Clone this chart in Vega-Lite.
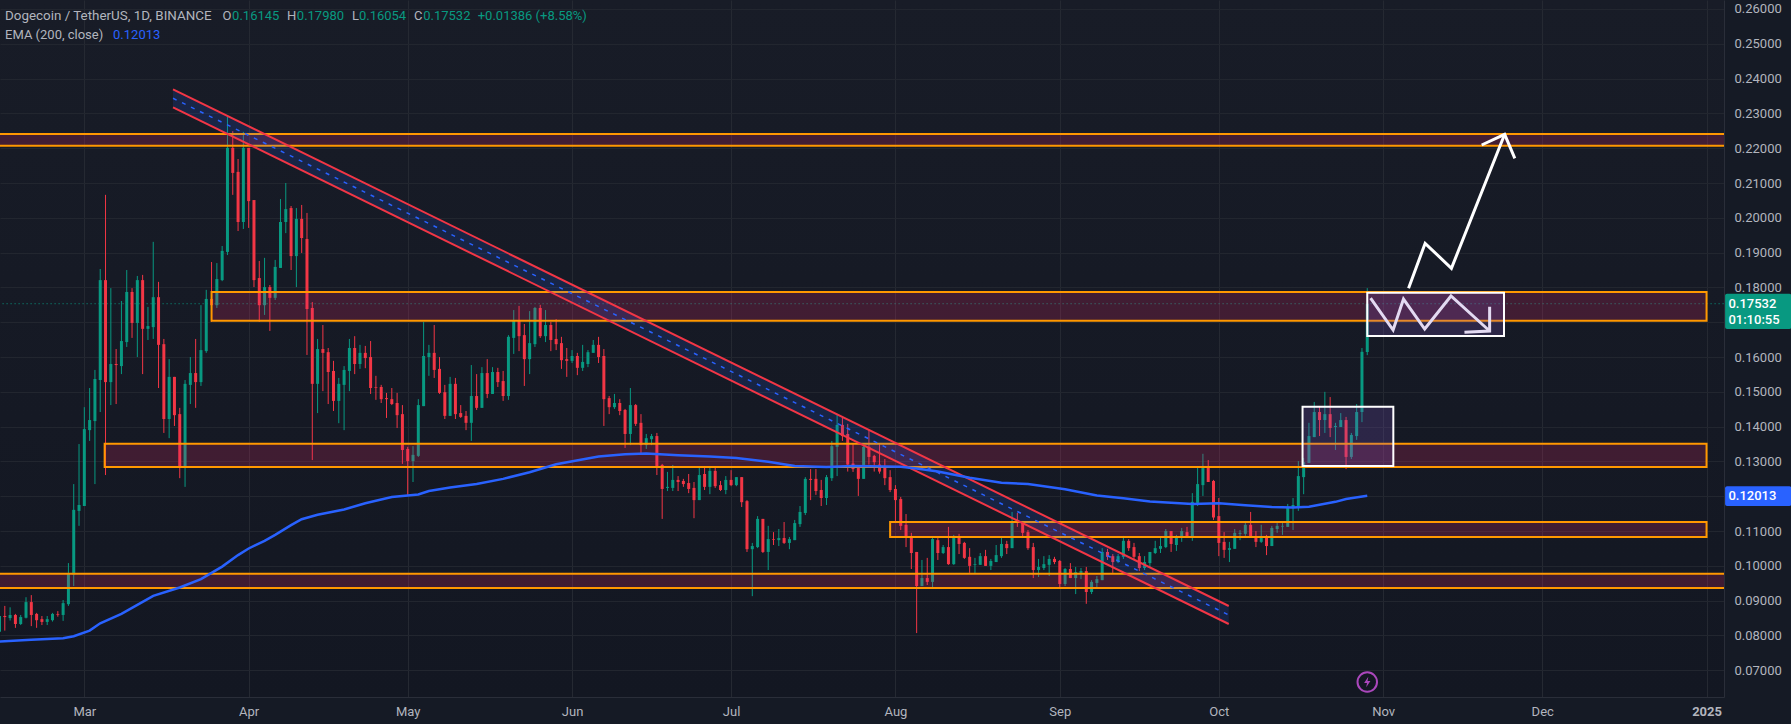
{"$schema":"https://vega.github.io/schema/vega-lite/v6.json","width":1724,"height":697,"autosize":{"type":"none"},"padding":{"left":0,"top":0,"right":67,"bottom":27},"background":"#151a25","view":{"stroke":null,"fill":{"gradient":"linear","x1":0,"y1":0,"x2":0,"y2":1,"stops":[{"offset":0,"color":"#181c27"},{"offset":1,"color":"#131722"}]}},"config":{"font":"Roboto","text":{"font":"Roboto","fontSize":13}},
"datasets":{
"ohlc":[
{"t":"2024-02-14","o":0.0811,"h":0.0856,"l":0.0811,"c":0.0856},{"t":"2024-02-15","o":0.0856,"h":0.0885,"l":0.0814,"c":0.0853},{"t":"2024-02-16","o":0.085,"h":0.0881,"l":0.0843,"c":0.0859},{"t":"2024-02-17","o":0.0859,"h":0.0862,"l":0.0822,"c":0.0833},{"t":"2024-02-18","o":0.0833,"h":0.0859,"l":0.083,"c":0.0853},{"t":"2024-02-19","o":0.0851,"h":0.091,"l":0.0849,"c":0.0896},{"t":"2024-02-20","o":0.0896,"h":0.0916,"l":0.0827,"c":0.0859},{"t":"2024-02-21","o":0.0862,"h":0.0865,"l":0.0822,"c":0.0844},{"t":"2024-02-22","o":0.0847,"h":0.0856,"l":0.083,"c":0.0839},{"t":"2024-02-23","o":0.0839,"h":0.0856,"l":0.083,"c":0.0847},{"t":"2024-02-24","o":0.0844,"h":0.0865,"l":0.084,"c":0.0862},{"t":"2024-02-25","o":0.0861,"h":0.087,"l":0.0854,"c":0.0859},{"t":"2024-02-26","o":0.0859,"h":0.0902,"l":0.0842,"c":0.0893},{"t":"2024-02-27","o":0.089,"h":0.1008,"l":0.0885,"c":0.0978},{"t":"2024-02-28","o":0.0975,"h":0.1235,"l":0.0942,"c":0.1161},{"t":"2024-02-29","o":0.1158,"h":0.135,"l":0.1115,"c":0.1175},
{"t":"2024-03-01","o":0.1172,"h":0.1456,"l":0.1172,"c":0.1393},{"t":"2024-03-02","o":0.139,"h":0.1511,"l":0.1359,"c":0.1419},{"t":"2024-03-03","o":0.1416,"h":0.1563,"l":0.1235,"c":0.1537},{"t":"2024-03-04","o":0.1534,"h":0.1853,"l":0.1442,"c":0.1821},{"t":"2024-03-05","o":0.1821,"h":0.2066,"l":0.1261,"c":0.1528},{"t":"2024-03-06","o":0.1528,"h":0.1798,"l":0.1462,"c":0.158},{"t":"2024-03-07","o":0.158,"h":0.1623,"l":0.1465,"c":0.1577},{"t":"2024-03-08","o":0.1574,"h":0.1761,"l":0.1551,"c":0.1646},{"t":"2024-03-09","o":0.1643,"h":0.185,"l":0.1629,"c":0.1787},{"t":"2024-03-10","o":0.1787,"h":0.1798,"l":0.1655,"c":0.1698},{"t":"2024-03-11","o":0.1698,"h":0.1833,"l":0.16,"c":0.1821},{"t":"2024-03-12","o":0.1821,"h":0.1836,"l":0.1551,"c":0.1681},{"t":"2024-03-13","o":0.1681,"h":0.1744,"l":0.1649,"c":0.1689},{"t":"2024-03-14","o":0.1686,"h":0.1931,"l":0.1652,"c":0.1772},{"t":"2024-03-15","o":0.1772,"h":0.1816,"l":0.1511,"c":0.1635},{"t":"2024-03-16","o":0.1637,"h":0.1652,"l":0.1382,"c":0.1422},{"t":"2024-03-17","o":0.1422,"h":0.1594,"l":0.1367,"c":0.1543},{"t":"2024-03-18","o":0.1543,"h":0.1543,"l":0.1402,"c":0.1433},{"t":"2024-03-19","o":0.1436,"h":0.1454,"l":0.1252,"c":0.1284},{"t":"2024-03-20","o":0.1284,"h":0.1534,"l":0.1227,"c":0.1523},{"t":"2024-03-21","o":0.152,"h":0.16,"l":0.1465,"c":0.1554},{"t":"2024-03-22","o":0.1554,"h":0.1652,"l":0.1454,"c":0.1528},{"t":"2024-03-23","o":0.1528,"h":0.1749,"l":0.1517,"c":0.162},{"t":"2024-03-24","o":0.1617,"h":0.1793,"l":0.1612,"c":0.1767},{"t":"2024-03-25","o":0.1767,"h":0.1873,"l":0.1701,"c":0.1749},{"t":"2024-03-26","o":0.1749,"h":0.187,"l":0.1741,"c":0.1824},{"t":"2024-03-27","o":0.1821,"h":0.1919,"l":0.1818,"c":0.1905},{"t":"2024-03-28","o":0.1902,"h":0.229,"l":0.1893,"c":0.2201},{"t":"2024-03-29","o":0.2201,"h":0.2249,"l":0.2066,"c":0.2129},{"t":"2024-03-30","o":0.2132,"h":0.2169,"l":0.1962,"c":0.1988},{"t":"2024-03-31","o":0.1988,"h":0.2247,"l":0.1968,"c":0.2201},
{"t":"2024-04-01","o":0.2201,"h":0.2201,"l":0.1971,"c":0.2048},{"t":"2024-04-02","o":0.2051,"h":0.2051,"l":0.1801,"c":0.1821},{"t":"2024-04-03","o":0.1827,"h":0.1876,"l":0.1701,"c":0.1749},{"t":"2024-04-04","o":0.1749,"h":0.1885,"l":0.1721,"c":0.1801},{"t":"2024-04-05","o":0.1801,"h":0.1807,"l":0.1675,"c":0.177},{"t":"2024-04-06","o":0.177,"h":0.1879,"l":0.1764,"c":0.1859},{"t":"2024-04-07","o":0.1856,"h":0.2054,"l":0.1856,"c":0.1988},{"t":"2024-04-08","o":0.1988,"h":0.21,"l":0.1956,"c":0.2025},{"t":"2024-04-09","o":0.2028,"h":0.2034,"l":0.185,"c":0.189},{"t":"2024-04-10","o":0.189,"h":0.2028,"l":0.1801,"c":0.1997},{"t":"2024-04-11","o":0.1997,"h":0.2037,"l":0.1899,"c":0.1942},{"t":"2024-04-12","o":0.1939,"h":0.2014,"l":0.1606,"c":0.1738},{"t":"2024-04-13","o":0.1741,"h":0.1758,"l":0.1304,"c":0.1523},{"t":"2024-04-14","o":0.1523,"h":0.1652,"l":0.1439,"c":0.1623},{"t":"2024-04-15","o":0.1623,"h":0.1692,"l":0.1502,"c":0.1612},{"t":"2024-04-16","o":0.1614,"h":0.1626,"l":0.1465,"c":0.1557},{"t":"2024-04-17","o":0.156,"h":0.1589,"l":0.1445,"c":0.1474},{"t":"2024-04-18","o":0.1474,"h":0.154,"l":0.141,"c":0.1523},{"t":"2024-04-19","o":0.152,"h":0.1574,"l":0.139,"c":0.1563},{"t":"2024-04-20","o":0.156,"h":0.1652,"l":0.1502,"c":0.1626},{"t":"2024-04-21","o":0.1626,"h":0.166,"l":0.1551,"c":0.158},{"t":"2024-04-22","o":0.158,"h":0.1635,"l":0.1566,"c":0.1612},{"t":"2024-04-23","o":0.1612,"h":0.1632,"l":0.1568,"c":0.1597},{"t":"2024-04-24","o":0.16,"h":0.1646,"l":0.1494,"c":0.1511},{"t":"2024-04-25","o":0.1514,"h":0.1546,"l":0.1477,"c":0.1512},{"t":"2024-04-26","o":0.1514,"h":0.152,"l":0.1468,"c":0.1479},{"t":"2024-04-27","o":0.1482,"h":0.1497,"l":0.1425,"c":0.1479},{"t":"2024-04-28","o":0.1479,"h":0.1511,"l":0.1462,"c":0.1465},{"t":"2024-04-29","o":0.1468,"h":0.1497,"l":0.1396,"c":0.1433},{"t":"2024-04-30","o":0.1436,"h":0.1462,"l":0.1293,"c":0.1333},
{"t":"2024-05-01","o":0.1336,"h":0.1342,"l":0.1204,"c":0.1301},{"t":"2024-05-02","o":0.1301,"h":0.1344,"l":0.1241,"c":0.1319},{"t":"2024-05-03","o":0.1316,"h":0.1479,"l":0.1313,"c":0.1462},{"t":"2024-05-04","o":0.1459,"h":0.1701,"l":0.1459,"c":0.1603},{"t":"2024-05-05","o":0.16,"h":0.1635,"l":0.1546,"c":0.1612},{"t":"2024-05-06","o":0.1612,"h":0.1692,"l":0.154,"c":0.1563},{"t":"2024-05-07","o":0.1566,"h":0.16,"l":0.1494,"c":0.1497},{"t":"2024-05-08","o":0.1499,"h":0.152,"l":0.1422,"c":0.1431},{"t":"2024-05-09","o":0.1431,"h":0.1543,"l":0.1431,"c":0.1523},{"t":"2024-05-10","o":0.1523,"h":0.154,"l":0.1422,"c":0.1436},{"t":"2024-05-11","o":0.1439,"h":0.1462,"l":0.1425,"c":0.1428},{"t":"2024-05-12","o":0.1431,"h":0.1445,"l":0.139,"c":0.1411},{"t":"2024-05-13","o":0.1411,"h":0.1577,"l":0.1359,"c":0.1488},{"t":"2024-05-14","o":0.1488,"h":0.1551,"l":0.1448,"c":0.1454},{"t":"2024-05-15","o":0.1454,"h":0.1571,"l":0.1454,"c":0.1554},{"t":"2024-05-16","o":0.1554,"h":0.1594,"l":0.1482,"c":0.1494},{"t":"2024-05-17","o":0.1494,"h":0.1571,"l":0.1494,"c":0.1557},{"t":"2024-05-18","o":0.1557,"h":0.1569,"l":0.1514,"c":0.1528},{"t":"2024-05-19","o":0.1531,"h":0.156,"l":0.1474,"c":0.1488},{"t":"2024-05-20","o":0.1488,"h":0.1663,"l":0.1477,"c":0.1658},{"t":"2024-05-21","o":0.1655,"h":0.1735,"l":0.1609,"c":0.1704},{"t":"2024-05-22","o":0.1704,"h":0.1747,"l":0.1617,"c":0.166},{"t":"2024-05-23","o":0.1663,"h":0.1695,"l":0.1517,"c":0.1594},{"t":"2024-05-24","o":0.1594,"h":0.1732,"l":0.1551,"c":0.164},{"t":"2024-05-25","o":0.1637,"h":0.1744,"l":0.1629,"c":0.1741},{"t":"2024-05-26","o":0.1741,"h":0.175,"l":0.1655,"c":0.166},{"t":"2024-05-27","o":0.166,"h":0.1735,"l":0.1643,"c":0.1692},{"t":"2024-05-28","o":0.1692,"h":0.1701,"l":0.1617,"c":0.1649},{"t":"2024-05-29","o":0.1652,"h":0.1709,"l":0.162,"c":0.1637},{"t":"2024-05-30","o":0.164,"h":0.1658,"l":0.1566,"c":0.1591},{"t":"2024-05-31","o":0.1594,"h":0.1626,"l":0.1543,"c":0.1589},
{"t":"2024-06-01","o":0.1589,"h":0.162,"l":0.1583,"c":0.1603},{"t":"2024-06-02","o":0.1603,"h":0.1612,"l":0.1548,"c":0.1569},{"t":"2024-06-03","o":0.1569,"h":0.1635,"l":0.156,"c":0.1586},{"t":"2024-06-04","o":0.158,"h":0.162,"l":0.1571,"c":0.1614},{"t":"2024-06-05","o":0.1612,"h":0.1649,"l":0.1612,"c":0.1635},{"t":"2024-06-06","o":0.1635,"h":0.1658,"l":0.1583,"c":0.16},{"t":"2024-06-07","o":0.1603,"h":0.1623,"l":0.1402,"c":0.1479},{"t":"2024-06-08","o":0.1482,"h":0.1488,"l":0.1436,"c":0.1456},{"t":"2024-06-09","o":0.1456,"h":0.1494,"l":0.1451,"c":0.1468},{"t":"2024-06-10","o":0.1468,"h":0.1479,"l":0.1433,"c":0.1445},{"t":"2024-06-11","o":0.1448,"h":0.1451,"l":0.1339,"c":0.1379},{"t":"2024-06-12","o":0.1379,"h":0.1511,"l":0.1347,"c":0.1462},{"t":"2024-06-13","o":0.1462,"h":0.1465,"l":0.1402,"c":0.1408},{"t":"2024-06-14","o":0.1411,"h":0.1436,"l":0.1319,"c":0.1347},{"t":"2024-06-15","o":0.1347,"h":0.1379,"l":0.1336,"c":0.1367},{"t":"2024-06-16","o":0.1364,"h":0.1379,"l":0.1347,"c":0.1373},{"t":"2024-06-17","o":0.1373,"h":0.1382,"l":0.1261,"c":0.1287},{"t":"2024-06-18","o":0.129,"h":0.1293,"l":0.1135,"c":0.1221},{"t":"2024-06-19","o":0.1224,"h":0.127,"l":0.1215,"c":0.1227},{"t":"2024-06-20","o":0.1224,"h":0.129,"l":0.1215,"c":0.1247},{"t":"2024-06-21","o":0.1247,"h":0.1258,"l":0.1215,"c":0.1241},{"t":"2024-06-22","o":0.1244,"h":0.125,"l":0.1227,"c":0.1235},{"t":"2024-06-23","o":0.1238,"h":0.1264,"l":0.1209,"c":0.1221},{"t":"2024-06-24","o":0.1224,"h":0.1241,"l":0.1137,"c":0.1189},{"t":"2024-06-25","o":0.1189,"h":0.1287,"l":0.1189,"c":0.1261},{"t":"2024-06-26","o":0.1264,"h":0.1287,"l":0.1218,"c":0.1227},{"t":"2024-06-27","o":0.1227,"h":0.1287,"l":0.1206,"c":0.1273},{"t":"2024-06-28","o":0.1273,"h":0.1287,"l":0.1224,"c":0.1229},{"t":"2024-06-29","o":0.1232,"h":0.1244,"l":0.1215,"c":0.1218},{"t":"2024-06-30","o":0.1218,"h":0.1258,"l":0.1206,"c":0.1247},
{"t":"2024-07-01","o":0.1247,"h":0.1275,"l":0.1229,"c":0.1232},{"t":"2024-07-02","o":0.1232,"h":0.1255,"l":0.1229,"c":0.1255},{"t":"2024-07-03","o":0.1255,"h":0.1255,"l":0.1169,"c":0.1183},{"t":"2024-07-04","o":0.1186,"h":0.1189,"l":0.104,"c":0.1048},{"t":"2024-07-05","o":0.1048,"h":0.1066,"l":0.0913,"c":0.1057},{"t":"2024-07-06","o":0.1054,"h":0.1143,"l":0.1051,"c":0.1135},{"t":"2024-07-07","o":0.1135,"h":0.1135,"l":0.1037,"c":0.104},{"t":"2024-07-08","o":0.104,"h":0.1115,"l":0.0988,"c":0.1077},{"t":"2024-07-09","o":0.1077,"h":0.1097,"l":0.106,"c":0.1075},{"t":"2024-07-10","o":0.1074,"h":0.1106,"l":0.1057,"c":0.108},{"t":"2024-07-11","o":0.108,"h":0.1126,"l":0.1063,"c":0.1066},{"t":"2024-07-12","o":0.1066,"h":0.1083,"l":0.1048,"c":0.1077},{"t":"2024-07-13","o":0.1074,"h":0.1132,"l":0.1074,"c":0.1123},{"t":"2024-07-14","o":0.112,"h":0.1172,"l":0.1112,"c":0.1155},{"t":"2024-07-15","o":0.1152,"h":0.1255,"l":0.1146,"c":0.125},{"t":"2024-07-16","o":0.125,"h":0.1278,"l":0.1189,"c":0.1247},{"t":"2024-07-17","o":0.125,"h":0.1278,"l":0.1204,"c":0.1215},{"t":"2024-07-18","o":0.1218,"h":0.1247,"l":0.1172,"c":0.1195},{"t":"2024-07-19","o":0.1195,"h":0.1261,"l":0.1175,"c":0.1255},{"t":"2024-07-20","o":0.1252,"h":0.1359,"l":0.1244,"c":0.1344},{"t":"2024-07-21","o":0.1342,"h":0.1436,"l":0.1258,"c":0.1405},{"t":"2024-07-22","o":0.1405,"h":0.1428,"l":0.1359,"c":0.1373},{"t":"2024-07-23","o":0.1379,"h":0.1408,"l":0.1271,"c":0.1291},{"t":"2024-07-24","o":0.1294,"h":0.135,"l":0.127,"c":0.1278},{"t":"2024-07-25","o":0.1284,"h":0.1287,"l":0.1201,"c":0.125},{"t":"2024-07-26","o":0.125,"h":0.135,"l":0.125,"c":0.1342},{"t":"2024-07-27","o":0.1342,"h":0.139,"l":0.1291,"c":0.1313},{"t":"2024-07-28","o":0.1316,"h":0.1319,"l":0.1271,"c":0.1298},{"t":"2024-07-29","o":0.1291,"h":0.1353,"l":0.1265,"c":0.1271},{"t":"2024-07-30","o":0.1284,"h":0.1307,"l":0.1232,"c":0.1252},{"t":"2024-07-31","o":0.1255,"h":0.1275,"l":0.1212,"c":0.1218},
{"t":"2024-08-01","o":0.1221,"h":0.1232,"l":0.1123,"c":0.1189},{"t":"2024-08-02","o":0.1192,"h":0.1198,"l":0.1103,"c":0.1115},{"t":"2024-08-03","o":0.1118,"h":0.1149,"l":0.1054,"c":0.108},{"t":"2024-08-04","o":0.1083,"h":0.1095,"l":0.0991,"c":0.1037},{"t":"2024-08-05","o":0.104,"h":0.104,"l":0.0807,"c":0.0942},{"t":"2024-08-06","o":0.0942,"h":0.1017,"l":0.0942,"c":0.0965},{"t":"2024-08-07","o":0.0965,"h":0.1023,"l":0.0945,"c":0.0954},{"t":"2024-08-08","o":0.0954,"h":0.108,"l":0.0936,"c":0.1077},{"t":"2024-08-09","o":0.1074,"h":0.108,"l":0.1017,"c":0.1037},{"t":"2024-08-10","o":0.1037,"h":0.106,"l":0.1034,"c":0.1054},{"t":"2024-08-11","o":0.1054,"h":0.1112,"l":0.1003,"c":0.1005},{"t":"2024-08-12","o":0.1005,"h":0.1089,"l":0.1003,"c":0.108},{"t":"2024-08-13","o":0.1086,"h":0.1092,"l":0.1034,"c":0.1063},{"t":"2024-08-14","o":0.1066,"h":0.1069,"l":0.102,"c":0.1023},{"t":"2024-08-15","o":0.1026,"h":0.1051,"l":0.098,"c":0.1},{"t":"2024-08-16","o":0.1003,"h":0.1023,"l":0.0977,"c":0.1005},{"t":"2024-08-17","o":0.1003,"h":0.1037,"l":0.1003,"c":0.1028},{"t":"2024-08-18","o":0.1028,"h":0.1046,"l":0.1,"c":0.1},{"t":"2024-08-19","o":0.1,"h":0.102,"l":0.0988,"c":0.1014},{"t":"2024-08-20","o":0.1011,"h":0.106,"l":0.1011,"c":0.1031},{"t":"2024-08-21","o":0.1028,"h":0.108,"l":0.1023,"c":0.1063},{"t":"2024-08-22","o":0.1063,"h":0.1072,"l":0.1034,"c":0.1051},{"t":"2024-08-23","o":0.1051,"h":0.1155,"l":0.1051,"c":0.1129},{"t":"2024-08-24","o":0.1132,"h":0.1152,"l":0.1112,"c":0.1123},{"t":"2024-08-25","o":0.1126,"h":0.1129,"l":0.108,"c":0.1095},{"t":"2024-08-26","o":0.1097,"h":0.1103,"l":0.1046,"c":0.1051},{"t":"2024-08-27","o":0.1054,"h":0.1066,"l":0.0965,"c":0.0988},{"t":"2024-08-28","o":0.0988,"h":0.102,"l":0.0968,"c":0.0997},{"t":"2024-08-29","o":0.0994,"h":0.1028,"l":0.0988,"c":0.1005},{"t":"2024-08-30","o":0.1003,"h":0.1031,"l":0.0971,"c":0.102},{"t":"2024-08-31","o":0.102,"h":0.1026,"l":0.1005,"c":0.1011},
{"t":"2024-09-01","o":0.1014,"h":0.1017,"l":0.0939,"c":0.0948},{"t":"2024-09-02","o":0.0948,"h":0.0994,"l":0.0942,"c":0.0991},{"t":"2024-09-03","o":0.0991,"h":0.1008,"l":0.0965,"c":0.0965},{"t":"2024-09-04","o":0.0965,"h":0.0997,"l":0.0919,"c":0.0982},{"t":"2024-09-05","o":0.098,"h":0.0994,"l":0.0962,"c":0.0985},{"t":"2024-09-06","o":0.0985,"h":0.0997,"l":0.0891,"c":0.0925},{"t":"2024-09-07","o":0.0925,"h":0.0959,"l":0.0919,"c":0.0954},{"t":"2024-09-08","o":0.0951,"h":0.0971,"l":0.0939,"c":0.0962},{"t":"2024-09-09","o":0.0959,"h":0.1051,"l":0.0959,"c":0.104},{"t":"2024-09-10","o":0.104,"h":0.1049,"l":0.1017,"c":0.1026},{"t":"2024-09-11","o":0.1028,"h":0.1034,"l":0.098,"c":0.1011},{"t":"2024-09-12","o":0.1011,"h":0.1034,"l":0.1008,"c":0.1028},{"t":"2024-09-13","o":0.1026,"h":0.1086,"l":0.102,"c":0.1072},{"t":"2024-09-14","o":0.1072,"h":0.1077,"l":0.1043,"c":0.1051},{"t":"2024-09-15","o":0.1054,"h":0.1066,"l":0.102,"c":0.1026},{"t":"2024-09-16","o":0.1028,"h":0.1037,"l":0.0985,"c":0.0994},{"t":"2024-09-17","o":0.0994,"h":0.1028,"l":0.0988,"c":0.1011},{"t":"2024-09-18","o":0.1008,"h":0.104,"l":0.0997,"c":0.104},{"t":"2024-09-19","o":0.1037,"h":0.1072,"l":0.1034,"c":0.1051},{"t":"2024-09-20","o":0.1049,"h":0.108,"l":0.1037,"c":0.1057},{"t":"2024-09-21","o":0.1054,"h":0.1106,"l":0.1051,"c":0.11},{"t":"2024-09-22","o":0.11,"h":0.11,"l":0.104,"c":0.1063},{"t":"2024-09-23","o":0.106,"h":0.1089,"l":0.1043,"c":0.1083},{"t":"2024-09-24","o":0.108,"h":0.1109,"l":0.1069,"c":0.11},{"t":"2024-09-25","o":0.1097,"h":0.1112,"l":0.108,"c":0.1083},{"t":"2024-09-26","o":0.1083,"h":0.1209,"l":0.1072,"c":0.1184},{"t":"2024-09-27","o":0.1181,"h":0.1287,"l":0.1172,"c":0.1235},{"t":"2024-09-28","o":0.1232,"h":0.1322,"l":0.1201,"c":0.1281},{"t":"2024-09-29","o":0.1284,"h":0.1304,"l":0.1241,"c":0.1241},{"t":"2024-09-30","o":0.1244,"h":0.1247,"l":0.1132,"c":0.1139},
{"t":"2024-10-01","o":0.1143,"h":0.1195,"l":0.1028,"c":0.1066},{"t":"2024-10-02","o":0.1069,"h":0.1097,"l":0.1023,"c":0.1046},{"t":"2024-10-03","o":0.1046,"h":0.1069,"l":0.1011,"c":0.1051},{"t":"2024-10-04","o":0.1049,"h":0.1106,"l":0.1049,"c":0.1095},{"t":"2024-10-05","o":0.1092,"h":0.1103,"l":0.1074,"c":0.1095},{"t":"2024-10-06","o":0.1092,"h":0.1129,"l":0.1086,"c":0.1118},{"t":"2024-10-07","o":0.1118,"h":0.1155,"l":0.1083,"c":0.1083},{"t":"2024-10-08","o":0.1086,"h":0.11,"l":0.1054,"c":0.1069},{"t":"2024-10-09","o":0.1069,"h":0.1118,"l":0.1066,"c":0.108},{"t":"2024-10-10","o":0.1086,"h":0.1089,"l":0.1031,"c":0.1057},{"t":"2024-10-11","o":0.1057,"h":0.1115,"l":0.1057,"c":0.1109},{"t":"2024-10-12","o":0.1106,"h":0.1123,"l":0.1095,"c":0.1115},{"t":"2024-10-13","o":0.1113,"h":0.1129,"l":0.1089,"c":0.1115},{"t":"2024-10-14","o":0.1112,"h":0.1178,"l":0.1112,"c":0.1169},{"t":"2024-10-15","o":0.1166,"h":0.1195,"l":0.1103,"c":0.1175},{"t":"2024-10-16","o":0.1169,"h":0.1301,"l":0.1158,"c":0.1258},{"t":"2024-10-17","o":0.1255,"h":0.131,"l":0.1206,"c":0.1298},{"t":"2024-10-18","o":0.1296,"h":0.1411,"l":0.1296,"c":0.1373},{"t":"2024-10-19","o":0.137,"h":0.1471,"l":0.137,"c":0.1442},{"t":"2024-10-20","o":0.1442,"h":0.1459,"l":0.1373,"c":0.1419},{"t":"2024-10-21","o":0.1419,"h":0.15,"l":0.1382,"c":0.1436},{"t":"2024-10-22","o":0.1436,"h":0.1485,"l":0.137,"c":0.1396},{"t":"2024-10-23","o":0.1399,"h":0.1411,"l":0.1333,"c":0.1402},{"t":"2024-10-24","o":0.1399,"h":0.1439,"l":0.1399,"c":0.1419},{"t":"2024-10-25","o":0.1419,"h":0.1428,"l":0.1278,"c":0.1313},{"t":"2024-10-26","o":0.1313,"h":0.1382,"l":0.1307,"c":0.1376},{"t":"2024-10-27","o":0.1373,"h":0.1465,"l":0.1362,"c":0.1442},{"t":"2024-10-28","o":0.1442,"h":0.1626,"l":0.1413,"c":0.1615},{"t":"2024-10-29","o":0.16145,"h":0.1798,"l":0.16054,"c":0.17532}
],
"ema":[{"t":"2024-02-14","p":0.0783},{"t":"2024-02-20","p":0.0788},{"t":"2024-02-26","p":0.0792},{"t":"2024-02-28","p":0.0798},{"t":"2024-03-02","p":0.0814},{"t":"2024-03-04","p":0.0835},{"t":"2024-03-08","p":0.0862},{"t":"2024-03-11","p":0.0888},{"t":"2024-03-14","p":0.0914},{"t":"2024-03-19","p":0.0938},{"t":"2024-03-23","p":0.0962},{"t":"2024-03-27","p":0.0998},{"t":"2024-03-30","p":0.1031},{"t":"2024-04-01","p":0.105},{"t":"2024-04-04","p":0.1072},{"t":"2024-04-06","p":0.1089},{"t":"2024-04-09","p":0.1117},{"t":"2024-04-11","p":0.1134},{"t":"2024-04-14","p":0.1147},{"t":"2024-04-19","p":0.1162},{"t":"2024-04-23","p":0.118},{"t":"2024-04-28","p":0.1198},{"t":"2024-05-03","p":0.1205},{"t":"2024-05-05","p":0.1215},{"t":"2024-05-09","p":0.1225},{"t":"2024-05-14","p":0.1235},{"t":"2024-05-19","p":0.125},{"t":"2024-05-24","p":0.1269},{"t":"2024-05-29","p":0.1292},{"t":"2024-06-06","p":0.1314},{"t":"2024-06-11","p":0.1321},{"t":"2024-06-15","p":0.1323},{"t":"2024-06-21","p":0.1318},{"t":"2024-06-27","p":0.1314},{"t":"2024-07-02","p":0.131},{"t":"2024-07-08","p":0.1299},{"t":"2024-07-13","p":0.1287},{"t":"2024-07-19","p":0.1284},{"t":"2024-07-24","p":0.1287},{"t":"2024-08-02","p":0.1285},{"t":"2024-08-05","p":0.128},{"t":"2024-08-09","p":0.1271},{"t":"2024-08-15","p":0.1253},{"t":"2024-08-21","p":0.1239},{"t":"2024-08-26","p":0.1235},{"t":"2024-09-02","p":0.122},{"t":"2024-09-08","p":0.1202},{"t":"2024-09-13","p":0.1194},{"t":"2024-09-18","p":0.1185},{"t":"2024-09-26","p":0.1178},{"t":"2024-10-01","p":0.118},{"t":"2024-10-06","p":0.1174},{"t":"2024-10-11","p":0.1169},{"t":"2024-10-15","p":0.1168},{"t":"2024-10-18","p":0.117},{"t":"2024-10-23","p":0.1184},{"t":"2024-10-25","p":0.1192},{"t":"2024-10-29","p":0.12013}],
"zones":[{"t":"2024-02-01","t2":"2025-02-01","p":0.22408,"p2":0.22072},{"t":"2024-03-25","t2":"2025-01-01","p":0.17872,"p2":0.17044},{"t":"2024-03-04T20:00:00Z","t2":"2025-01-01","p":0.1351,"p2":0.12841},{"t":"2024-07-31","t2":"2025-01-01","p":0.1126,"p2":0.1083},{"t":"2024-02-01","t2":"2025-02-01","p":0.09775,"p2":0.09364}],
"channelBand":[{"t":"2024-03-17T17:30:00Z","p":0.23692,"p2":0.23175},{"t":"2024-10-02T21:00:00Z","p":0.08847,"p2":0.0833}],
"channelEdges":[{"t":"2024-03-17T17:30:00Z","p":0.23692,"g":"upper"},{"t":"2024-10-02T21:00:00Z","p":0.08847,"g":"upper"},{"t":"2024-03-17T17:30:00Z","p":0.23175,"g":"lower"},{"t":"2024-10-02T21:00:00Z","p":0.0833,"g":"lower"}],
"channelMid":[{"t":"2024-03-17T17:30:00Z","p":0.23434},{"t":"2024-10-02T21:00:00Z","p":0.08589}],
"boxes":[{"t":"2024-10-16T19:00:00Z","t2":"2024-11-02T22:00:00Z","p":0.14573,"p2":0.1287},{"t":"2024-10-29","t2":"2024-11-23T19:00:00Z","p":0.17848,"p2":0.16604}],
"zigzag":[{"t":"2024-10-29T15:00:00Z","p":0.17696,"g":"a","k":1},{"t":"2024-11-02T21:00:00Z","p":0.16777,"g":"a","k":2},{"t":"2024-11-04T20:00:00Z","p":0.17667,"g":"a","k":3},{"t":"2024-11-08T20:00:00Z","p":0.16805,"g":"a","k":4},{"t":"2024-11-13T19:00:00Z","p":0.17754,"g":"a","k":5},{"t":"2024-11-21T02:00:00Z","p":0.16748,"g":"a","k":6},{"t":"2024-11-21T02:00:00Z","p":0.17446,"g":"b","k":1},{"t":"2024-11-21T02:00:00Z","p":0.16748,"g":"b","k":2},{"t":"2024-11-16T08:00:00Z","p":0.16711,"g":"b","k":3}],
"arrow":[{"t":"2024-11-05T19:00:00Z","p":0.17975,"g":"a","k":1},{"t":"2024-11-08T22:00:00Z","p":0.19268,"g":"a","k":2},{"t":"2024-11-13T21:00:00Z","p":0.18549,"g":"a","k":3},{"t":"2024-11-23T22:00:00Z","p":0.22399,"g":"a","k":4},{"t":"2024-11-19T14:00:00Z","p":0.22092,"g":"b","k":1},{"t":"2024-11-23T22:00:00Z","p":0.22399,"g":"b","k":2},{"t":"2024-11-25T20:00:00Z","p":0.2171,"g":"b","k":3}],
"last":[{"t":"2024-02-01","t2":"2025-01-04T07:00:00Z","p":0.17532}],
"tags":[{"t":"2025-01-04T12:00:00Z","t2":"2025-01-17","p":0.1782,"p2":0.16805,"s":"last"},{"t":"2025-01-04T12:00:00Z","t2":"2025-01-17","p":0.1229,"p2":0.1172,"s":"ema"}],
"tagText":[{"t":"2025-01-05T03:00:00Z","p":0.17532,"label":"0.17532"},{"t":"2025-01-05T03:00:00Z","p":0.17063,"label":"01:10:55"},{"t":"2025-01-05T03:00:00Z","p":0.12013,"label":"0.12013"}],
"legendText":[{"t":"2024-02-15T01:00:00Z","p":0.25798,"label":"Dogecoin / TetherUS, 1D, BINANCE","kind":"gray"},{"t":"2024-03-27T02:00:00Z","p":0.25798,"label":"O","kind":"gray"},{"t":"2024-03-28T21:00:00Z","p":0.25798,"label":"0.16145","kind":"green"},{"t":"2024-04-08T05:00:00Z","p":0.25798,"label":"H","kind":"gray"},{"t":"2024-04-10T02:00:00Z","p":0.25798,"label":"0.17980","kind":"green"},{"t":"2024-04-20T12:00:00Z","p":0.25798,"label":"L","kind":"gray"},{"t":"2024-04-21T19:00:00Z","p":0.25798,"label":"0.16054","kind":"green"},{"t":"2024-05-02T05:00:00Z","p":0.25798,"label":"C","kind":"gray"},{"t":"2024-05-03T22:00:00Z","p":0.25798,"label":"0.17532","kind":"green"},{"t":"2024-05-14T05:00:00Z","p":0.25798,"label":"+0.01386 (+8.58%)","kind":"green"},{"t":"2024-02-15T01:00:00Z","p":0.25252,"label":"EMA (200, close)","kind":"gray"},{"t":"2024-03-06T10:00:00Z","p":0.25252,"label":"0.12013","kind":"blue"}],
"marker":[{"t":"2024-10-29","p":0.06664}]
},
"encoding":{
"x":{"field":"t","type":"temporal","title":null,"scale":{"type":"utc","domain":["2024-02-14T02:15:00Z","2025-01-04T07:00:00Z"],"nice":false},"axis":{"values":["2024-03-01","2024-04-01","2024-05-01","2024-06-01","2024-07-01","2024-08-01","2024-09-01","2024-10-01","2024-11-01","2024-12-01","2025-01-01"],"labelExpr":"utcmonth(datum.value)==0?'2025':utcFormat(datum.value,'%b')","labelFontWeight":{"condition":{"test":"utcmonth(datum.value)==0","value":"bold"},"value":"normal"},"grid":true,"gridColor":"#252932","gridWidth":1,"ticks":false,"labelPadding":8,"labelColor":"#b2b5be","labelFontSize":13,"labelFont":"Roboto","domainColor":"#2a2e39","labelFlush":false,"labelBound":false,"labelOverlap":false}},
"y":{"field":"p","type":"quantitative","title":null,"scale":{"domain":[0.06233,0.26258],"nice":false,"zero":false},"axis":{"orient":"right","values":[0.07,0.08,0.09,0.1,0.11,0.12,0.13,0.14,0.15,0.16,0.17,0.18,0.19,0.2,0.21,0.22,0.23,0.24,0.25,0.26],"labelExpr":"abs(datum.value-0.17)<0.001||abs(datum.value-0.12)<0.001?'':format(datum.value,'.5f')","grid":true,"gridColor":"#22262f","gridWidth":1,"ticks":false,"labelPadding":10,"labelColor":"#b2b5be","labelFontSize":13,"labelFont":"Roboto","domainColor":"#2a2e39","labelBound":false,"labelOverlap":false}}
},
"layer":[
{"data":{"name":"last"},"mark":{"type":"rule","strokeDash":[1,3],"strokeWidth":1,"color":"#089981","clip":true},"encoding":{"x2":{"field":"t2"}}},
{"data":{"name":"ohlc"},"mark":{"type":"rule","strokeWidth":1},"encoding":{"y":{"field":"h","type":"quantitative","title":null,"scale":{"domain":[0.06233,0.26258],"nice":false,"zero":false}},"y2":{"field":"l"},"color":{"condition":{"test":"datum.c>=datum.o","value":"#089981"},"value":"#f23645"}}},
{"data":{"name":"ohlc"},"mark":{"type":"rule","strokeWidth":3},"encoding":{"y":{"field":"o","type":"quantitative","title":null,"scale":{"domain":[0.06233,0.26258],"nice":false,"zero":false}},"y2":{"field":"c"},"color":{"condition":{"test":"datum.c>=datum.o","value":"#089981"},"value":"#f23645"}}},
{"data":{"name":"zones"},"mark":{"type":"rect","clip":true,"fill":"#f22b6d","fillOpacity":0.2,"stroke":"#ff9800","strokeWidth":2},"encoding":{"x2":{"field":"t2"},"y2":{"field":"p2"}}},
{"data":{"name":"channelBand"},"mark":{"type":"area","color":"#2962ff","opacity":0.15},"encoding":{"y2":{"field":"p2"}}},
{"data":{"name":"channelMid"},"mark":{"type":"line","color":"#2962ff","strokeWidth":1.5,"strokeDash":[4,6]}},
{"data":{"name":"channelEdges"},"mark":{"type":"line","color":"#f23645","strokeWidth":2},"encoding":{"detail":{"field":"g"}}},
{"data":{"name":"ema"},"mark":{"type":"line","color":"#2962ff","strokeWidth":2.5,"clip":true}},
{"data":{"name":"zigzag"},"mark":{"type":"line","color":"#ffffff","strokeWidth":3},"encoding":{"detail":{"field":"g"},"order":{"field":"k"}}},
{"data":{"name":"boxes"},"mark":{"type":"rect","fill":"#7e57c2","fillOpacity":0.22,"stroke":"#ffffff","strokeWidth":2},"encoding":{"x2":{"field":"t2"},"y2":{"field":"p2"}}},
{"data":{"name":"arrow"},"mark":{"type":"line","color":"#ffffff","strokeWidth":3},"encoding":{"detail":{"field":"g"},"order":{"field":"k"}}},
{"data":{"name":"marker"},"mark":{"type":"point","shape":"circle","filled":false,"size":380,"stroke":"#ab47bc","strokeWidth":2,"opacity":1}},
{"data":{"name":"marker"},"mark":{"type":"point","shape":"M0.2,-1L-0.6,0.2L-0.05,0.2L-0.2,1L0.6,-0.2L0.05,-0.2Z","filled":true,"size":110,"color":"#ab47bc","opacity":1}},
{"data":{"name":"tags"},"mark":{"type":"rect","cornerRadius":2},"encoding":{"x2":{"field":"t2"},"y2":{"field":"p2"},"color":{"field":"s","type":"nominal","legend":null,"scale":{"domain":["last","ema"],"range":["#089981","#2962ff"]}}}},
{"data":{"name":"tagText"},"mark":{"type":"text","align":"left","baseline":"middle","color":"#ffffff","fontSize":13,"fontWeight":500},"encoding":{"text":{"field":"label"}}},
{"data":{"name":"legendText"},"mark":{"type":"text","align":"left","baseline":"middle"},"encoding":{"text":{"field":"label"},"size":{"condition":{"test":"length(datum.label)>20","value":13.4},"value":13},"fill":{"field":"kind","type":"nominal","legend":null,"scale":{"domain":["gray","green","blue"],"range":["#b2b5be","#089981","#2962ff"]}}}}
]
}
